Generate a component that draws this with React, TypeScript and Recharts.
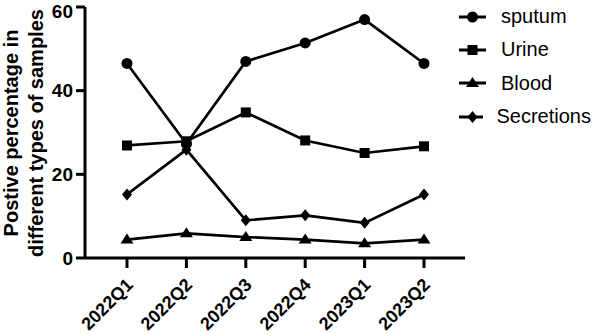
import { Label, Legend, Line, LineChart, XAxis, YAxis } from "recharts";

const quarters = ["2022Q1", "2022Q2", "2022Q3", "2022Q4", "2023Q1", "2023Q2"];
const sputum = [46.5, 27.3, 47.0, 51.4, 57.0, 46.5];
const urine = [26.9, 27.9, 34.8, 28.1, 25.1, 26.7];
const blood = [4.4, 5.9, 5.0, 4.4, 3.5, 4.4];
const secretions = [15.2, 25.9, 9.0, 10.2, 8.4, 15.2];
const yTicks = [0, 20, 40, 60];

const FONT = '"Liberation Sans", Arial, Helvetica, sans-serif';

type Shape = "circle" | "square" | "triangle" | "diamond";

const SERIES: { key: string; label: string; shape: Shape }[] = [
  { key: "sputum", label: "sputum", shape: "circle" },
  { key: "urine", label: "Urine", shape: "square" },
  { key: "blood", label: "Blood", shape: "triangle" },
  { key: "secretions", label: "Secretions", shape: "diamond" },
];

const data = quarters.map((quarter, i) => ({
  quarter,
  sputum: sputum[i],
  urine: urine[i],
  blood: blood[i],
  secretions: secretions[i],
}));

const Marker = ({ cx, cy, shape }: { cx: number; cy: number; shape: Shape }) => {
  if (shape === "circle") return <circle cx={cx} cy={cy} r={5.5} fill="#000" />;
  if (shape === "square")
    return <rect x={cx - 5} y={cy - 5} width={10} height={10} fill="#000" />;
  if (shape === "triangle")
    return (
      <polygon
        points={`${cx},${cy - 6} ${cx + 6.5},${cy + 4} ${cx - 6.5},${cy + 4}`}
        fill="#000"
      />
    );
  return (
    <polygon
      points={`${cx},${cy - 6} ${cx + 5},${cy} ${cx},${cy + 6} ${cx - 5},${cy}`}
      fill="#000"
    />
  );
};

const QuarterTick = ({ x, y, payload }: any) => {
  const tx = x + 7;
  const ty = y + 18;
  return (
    <text
      x={tx}
      y={ty}
      transform={`rotate(-45, ${tx}, ${ty})`}
      textAnchor="end"
      fontSize={18}
      fontWeight="bold"
      fontFamily={FONT}
      fill="#000"
    >
      {payload.value}
    </text>
  );
};

const renderYLabel = () => (
  <text
    transform="rotate(-90)"
    textAnchor="middle"
    fontSize={20}
    fontWeight="bold"
    fontFamily={FONT}
    fill="#000"
  >
    <tspan x={-133} y={18}>
      Postive percentage in
    </tspan>
    <tspan x={-133} y={43}>
      different types of samples
    </tspan>
  </text>
);

const renderLegend = () => (
  <div style={{ width: 132, fontFamily: FONT, fontSize: 20, color: "#000" }}>
    {SERIES.map((s) => (
      <div
        key={s.key}
        style={{ height: 33.3, display: "flex", alignItems: "center", whiteSpace: "nowrap" }}
      >
        <svg width={28} height={20} style={{ marginRight: 14 }}>
          <line x1={0} y1={10} x2={27} y2={10} stroke="#000" strokeWidth={3} />
          <Marker cx={13.5} cy={10} shape={s.shape} />
        </svg>
        <span>{s.label}</span>
      </div>
    ))}
  </div>
);

export default function App() {
  return (
    <div style={{ position: "absolute", left: 0, top: 0, background: "#fff" }}>
      <LineChart
        width={597}
        height={334}
        data={data}
        margin={{ top: 7, right: 0, bottom: 0, left: 0 }}
      >
        <XAxis
          dataKey="quarter"
          height={76}
          padding={{ left: 42, right: 41 }}
          tickSize={10}
          tickMargin={0}
          axisLine={{ stroke: "#000", strokeWidth: 3 }}
          tickLine={{ stroke: "#000", strokeWidth: 3 }}
          tick={<QuarterTick />}
          interval={0}
        />
        <YAxis
          width={85}
          domain={[0, 60]}
          ticks={yTicks}
          tickSize={9}
          tickMargin={3}
          axisLine={{ stroke: "#000", strokeWidth: 3 }}
          tickLine={{ stroke: "#000", strokeWidth: 3 }}
          tick={{ fill: "#000", fontSize: 19, fontWeight: "bold", fontFamily: FONT }}
        >
          <Label content={renderYLabel} />
        </YAxis>
        <Legend
          layout="vertical"
          align="right"
          verticalAlign="top"
          wrapperStyle={{ left: 459, top: 0 }}
          content={renderLegend}
        />
        {SERIES.map((s) => (
          <Line
            key={s.key}
            dataKey={s.key}
            name={s.label}
            type="linear"
            stroke="#000"
            strokeWidth={2.7}
            isAnimationActive={false}
            dot={(props: any) => (
              <Marker key={`${s.key}-${props.index}`} cx={props.cx} cy={props.cy} shape={s.shape} />
            )}
            activeDot={false}
          />
        ))}
      </LineChart>
    </div>
  );
}
